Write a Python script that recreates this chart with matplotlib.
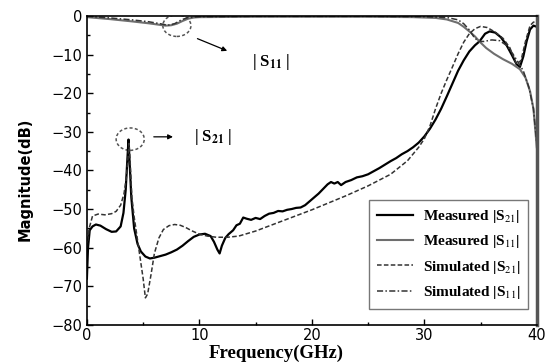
import numpy as np
import matplotlib
matplotlib.use("Agg")
import matplotlib.pyplot as plt
from matplotlib.patches import Ellipse
from matplotlib.ticker import MultipleLocator

# ---------------------------------------------------------------------------
# data (frequency in GHz, magnitude in dB)
# ---------------------------------------------------------------------------
meas_s21_f = [0.0, 0.1, 0.25, 0.5, 0.8, 1.2, 1.7, 2.2, 2.6, 3.0, 3.25, 3.45, 3.6,
              3.7, 3.8, 3.95, 4.2, 4.5, 4.8, 5.2, 5.6, 6.0, 6.5, 7.0, 7.5, 8.0,
              8.5, 9.0, 9.5, 10.0, 10.5, 11.0, 11.3, 11.6, 11.8, 12.0, 12.3,
              12.6, 13.0, 13.3, 13.6, 13.9, 14.2, 14.6, 15.0, 15.4, 15.8, 16.2,
              16.6, 17.0, 17.4, 17.8, 18.2, 18.6, 19.0, 19.4, 19.8, 20.2, 20.6,
              21.0, 21.4, 21.7, 22.0, 22.3, 22.6, 23.0, 23.5, 24.0, 24.5, 25.0,
              25.5, 26.0, 26.5, 27.0, 27.5, 28.0, 28.5, 29.0, 29.5, 30.0, 30.5,
              31.0, 31.5, 32.0, 32.5, 33.0, 33.5, 34.0, 34.5, 34.9, 35.4, 35.8,
              36.3, 36.8, 37.3, 37.8, 38.2, 38.5, 38.8, 39.1, 39.4, 39.7, 40.0]
meas_s21 = [-68, -60, -55.5, -54.5, -54.0, -54.3, -55.2, -55.9, -55.8, -54.5,
            -51, -45, -37, -32, -38, -47, -55, -59, -61, -62.3, -62.8, -62.6,
            -62.2, -61.8, -61.2, -60.5, -59.5, -58.3, -57.2, -56.6, -56.4, -57,
            -58.5, -60.5, -61.5, -59.5, -57.5, -56.5, -55.5, -54.2, -53.8,
            -52.2, -52.5, -52.8, -52.3, -52.6, -51.8, -51.2, -51.0, -50.5,
            -50.6, -50.2, -50.0, -49.7, -49.6, -49.0, -48.0, -47.0, -46.0,
            -44.8, -43.6, -43.0, -43.4, -43.0, -43.8, -43.0, -42.5, -41.8,
            -41.5, -41.0, -40.2, -39.4, -38.5, -37.6, -36.8, -35.8, -35.0,
            -34.0, -32.8, -31.2, -29.2, -26.8, -24.0, -20.8, -17.5, -14.2,
            -11.5, -9.2, -7.6, -6.6, -4.6, -4.0, -4.3, -5.5, -7.5, -10.2,
            -12.5, -13.2, -10.5, -6.5, -3.5, -2.5, -2.8]

meas_s11_f = [0, 2, 4, 5.5, 6.5, 7.0, 7.5, 8.0, 8.5, 9.0, 9.5, 10, 15, 20, 25,
              29, 31, 32, 33, 33.5, 34, 34.5, 34.9, 35.5, 36.2, 37.0, 37.8,
              38.5, 39.0, 39.4, 39.7, 40.0]
meas_s11 = [-0.3, -0.8, -1.4, -1.9, -2.3, -2.5, -2.4, -2.0, -1.3, -0.7, -0.4,
            -0.3, -0.2, -0.2, -0.2, -0.3, -0.5, -0.9, -1.8, -2.8, -4.0, -5.3,
            -6.6, -8.3, -9.8, -11.2, -12.4, -13.8, -16, -19.5, -24, -34]

sim_s21_f = [0, 0.2, 0.5, 1.0, 1.6, 2.2, 2.6, 3.0, 3.3, 3.5, 3.65, 3.75, 3.85,
             4.0, 4.2, 4.4, 4.7, 5.0, 5.2, 5.4, 5.7, 6.0, 6.4, 6.8, 7.3, 7.8,
             8.3, 8.8, 9.3, 10.0, 10.7, 11.5, 12.5, 13.5, 15, 17, 20, 23, 25,
             27, 28.5, 29.5, 30.0, 30.5, 31.0, 31.5, 32.0, 32.5, 33.0, 33.5,
             34.0, 34.5, 35.0, 35.6, 36.3, 37.0, 37.6, 38.2, 38.6, 39.0, 39.4,
             39.7, 40.0]
sim_s21 = [-60, -55, -51.8, -51.3, -51.5, -51.2, -50.6, -49, -46, -42, -37,
           -33, -38, -47, -52, -56, -62, -68, -73, -72, -67, -61.5, -57.5,
           -55.3, -54.3, -54.0, -54.2, -54.8, -55.6, -56.5, -57.0, -57.3,
           -57.3, -57.0, -55.7, -53.5, -50.2, -46.6, -44.0, -41.0, -37.5,
           -34.0, -31.8, -28.5, -24.0, -20.0, -16.5, -13.2, -9.8, -6.8, -4.6,
           -3.3, -2.7, -3.0, -4.2, -5.8, -8.2, -12.5, -11.5, -6.5, -2.5, -1.6,
           -1.5]

sim_s11_f = [0, 2, 4, 5.5, 6.5, 7.2, 7.8, 8.4, 9.0, 10, 15, 20, 25, 30, 32, 33,
             33.5, 34, 34.4, 34.8, 35.3, 36.0, 36.7, 37.3, 37.8, 38.3, 38.8,
             39.3, 39.7, 40]
sim_s11 = [-0.1, -0.5, -1.0, -1.5, -2.0, -2.4, -2.0, -1.0, -0.4, -0.2, -0.1,
           -0.1, -0.1, -0.2, -0.4, -1.0, -2.0, -3.6, -5.4, -6.6, -6.6, -6.2,
           -6.4, -7.6, -9.5, -11.8, -14.2, -18.5, -24, -33]

legend_labels = [r"Measured |S$_{21}$|", r"Measured |S$_{11}$|",
                 r"Simulated |S$_{21}$|", r"Simulated |S$_{11}$|"]

# ---------------------------------------------------------------------------
plt.rcParams["mathtext.fontset"] = "stix"
serif = "Liberation Serif"

fig = plt.figure(figsize=(5.5, 3.63), dpi=100)
ax = fig.add_axes([0.158, 0.105, 0.818, 0.851])

ax.plot(meas_s21_f, meas_s21, color="black", lw=1.6, label=legend_labels[0])
ax.plot(meas_s11_f, meas_s11, color="#6e6e6e", lw=1.5, label=legend_labels[1])
ax.plot(sim_s21_f, sim_s21, color="#333333", lw=1.1, ls=(0, (3, 1.5)),
        label=legend_labels[2])
ax.plot(sim_s11_f, sim_s11, color="#333333", lw=1.1, ls=(0, (4, 1.5, 1, 1.5)),
        label=legend_labels[3])

ax.set_xlim(0, 40)
ax.set_ylim(-80, 0)
ax.xaxis.set_major_locator(MultipleLocator(10))
ax.xaxis.set_minor_locator(MultipleLocator(5))
ax.yaxis.set_major_locator(MultipleLocator(10))
ax.yaxis.set_minor_locator(MultipleLocator(5))
ax.tick_params(which="both", direction="in", labelsize=10.5)
ax.tick_params(axis="x", pad=2)
ax.tick_params(which="major", length=4, width=1)
ax.tick_params(which="minor", length=2.5, width=1)
for side in ["left", "bottom", "top"]:
    ax.spines[side].set_linewidth(1.2)
ax.spines["right"].set_linewidth(2.5)
ax.spines["right"].set_color("#555555")

ax.set_xlabel("Frequency(GHz)", fontfamily=serif, fontweight="bold",
              fontsize=13.5, va="center")
ax.xaxis.set_label_coords(0.42, -0.092)
ax.set_ylabel("Magnitude(dB)", fontweight="bold", fontsize=10.5, va="center")
ax.yaxis.set_label_coords(-0.137, 0.47)

# annotations: dashed ellipses, arrows, labels
ax.add_patch(Ellipse((3.85, -31.9), 2.5, 5.8, fill=False, ls=(0, (2, 1.5)),
                     lw=1.1, edgecolor="#555555"))
ax.annotate("", xy=(7.9, -31.3), xytext=(5.7, -31.3),
            arrowprops=dict(arrowstyle="-|>", color="black", lw=0.9,
                            mutation_scale=7))
ax.text(11.2, -31.3, r"| S$_{\mathbf{21}}$ |", fontfamily=serif,
        fontweight="bold", fontsize=12, ha="center", va="center")

ax.add_patch(Ellipse((8.0, -2.5), 2.5, 5.6, fill=False, ls=(0, (2, 1.5)),
                     lw=1.1, edgecolor="#555555"))
ax.annotate("", xy=(12.7, -9.3), xytext=(9.6, -5.6),
            arrowprops=dict(arrowstyle="-|>", color="black", lw=0.9,
                            mutation_scale=7))
ax.text(16.4, -11.8, r"| S$_{\mathbf{11}}$ |", fontfamily=serif,
        fontweight="bold", fontsize=12, ha="center", va="center")

leg = ax.legend(loc="lower right", bbox_to_anchor=(0.98, 0.052),
                borderaxespad=0,
                prop={"family": serif, "weight": "bold", "size": 11},
                handlelength=2.4, handletextpad=0.6, labelspacing=0.55,
                borderpad=0.5, fancybox=False, framealpha=1,
                edgecolor="#777777")
leg.get_frame().set_linewidth(1.0)

fig.savefig("out.png", dpi=100)
